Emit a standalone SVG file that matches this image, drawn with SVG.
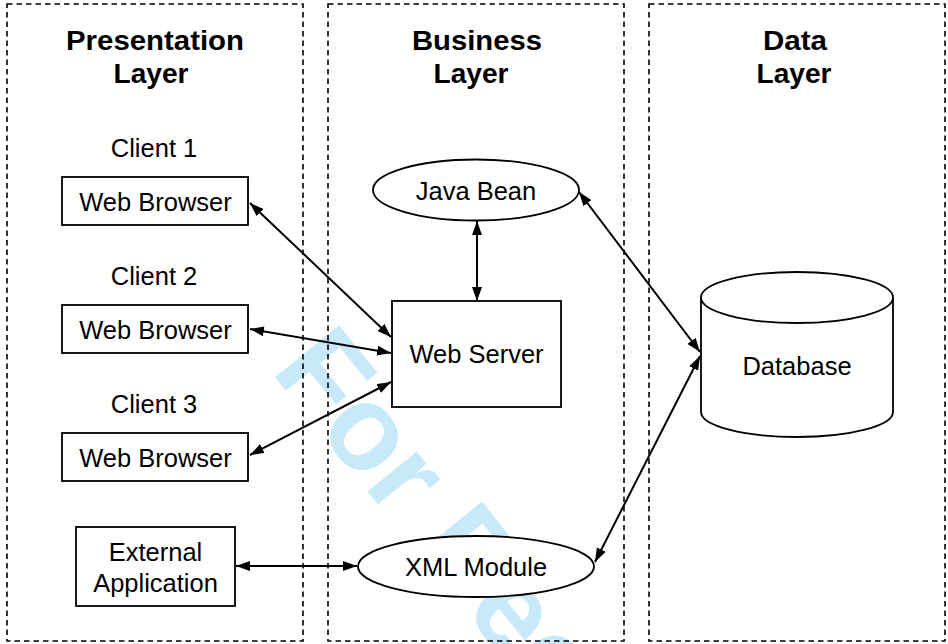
<svg xmlns="http://www.w3.org/2000/svg" width="948" height="644" viewBox="0 0 948 644">
<style>
.panel{fill:none;stroke:#000;stroke-width:1.6;stroke-dasharray:5.5,4}
.box{fill:#fff;stroke:#000;stroke-width:1.8}
.t{font-family:"Liberation Sans",Arial,Helvetica,sans-serif;font-size:25.5px;fill:#000;text-anchor:middle}
.h{font-family:"Liberation Sans",Arial,Helvetica,sans-serif;font-size:27px;font-weight:bold;fill:#000;text-anchor:middle}
.c{fill:none;stroke:#000;stroke-width:2;marker-start:url(#ah);marker-end:url(#ah)}
.wm{font-family:"Liberation Sans",Arial,Helvetica,sans-serif;font-size:120px;font-weight:bold;fill:#c8e9fa}
</style>
<defs>
<marker id="ah" viewBox="0 0 14 10" refX="14" refY="5" markerWidth="14" markerHeight="10.5" markerUnits="userSpaceOnUse" orient="auto-start-reverse">
<path d="M0,0 L14,5 L0,10 z" fill="#000"/>
</marker>
</defs>
<rect width="948" height="644" fill="#fff"/>
<text class="wm" transform="translate(270,371) rotate(51)">For Peer Review</text>
<g id="panels">
<rect class="panel" x="7" y="4" width="296" height="637"/>
<rect class="panel" x="328" y="4" width="296" height="637"/>
<rect class="panel" x="649" y="4" width="296" height="637"/>
</g>
<g id="titles">
<text class="h" x="155" y="50" textLength="178" lengthAdjust="spacingAndGlyphs">Presentation</text>
<text class="h" x="151" y="83" textLength="75" lengthAdjust="spacingAndGlyphs">Layer</text>
<text class="h" x="477" y="50" textLength="130" lengthAdjust="spacingAndGlyphs">Business</text>
<text class="h" x="471" y="83" textLength="75" lengthAdjust="spacingAndGlyphs">Layer</text>
<text class="h" x="795" y="50" textLength="64" lengthAdjust="spacingAndGlyphs">Data</text>
<text class="h" x="794" y="83" textLength="75" lengthAdjust="spacingAndGlyphs">Layer</text>
</g>
<g id="client1-label"><text class="t" x="154" y="157">Client 1</text></g>
<g id="client2-label"><text class="t" x="154" y="285">Client 2</text></g>
<g id="client3-label"><text class="t" x="154" y="413">Client 3</text></g>
<g id="browser1"><rect class="box" x="62" y="177" width="186" height="48"/><text class="t" x="155.5" y="211">Web Browser</text></g>
<g id="browser2"><rect class="box" x="62" y="305" width="186" height="48"/><text class="t" x="155.5" y="339">Web Browser</text></g>
<g id="browser3"><rect class="box" x="62" y="433" width="186" height="48"/><text class="t" x="155.5" y="467">Web Browser</text></g>
<g id="external"><rect class="box" x="76" y="527" width="159" height="79"/><text class="t" x="155.5" y="561">External</text><text class="t" x="155.5" y="592">Application</text></g>
<g id="javabean"><ellipse class="box" cx="476" cy="190" rx="103" ry="30.5"/><text class="t" x="476" y="200">Java Bean</text></g>
<g id="webserver"><rect class="box" x="392" y="301" width="169" height="106"/><text class="t" x="476.5" y="363">Web Server</text></g>
<g id="xmlmodule"><ellipse class="box" cx="476" cy="566.5" rx="118" ry="30.5"/><text class="t" x="476" y="576">XML Module</text></g>
<g id="database">
<path class="box" d="M701,297.5 L701,412 A96,25 0 0 0 893,412 L893,297.5"/>
<ellipse class="box" cx="797" cy="297.5" rx="96" ry="25.5"/>
<text class="t" x="797" y="375">Database</text>
</g>
<g id="connectors">
<line class="c" x1="250" y1="203" x2="391" y2="337"/>
<line class="c" x1="250" y1="329" x2="391" y2="353"/>
<line class="c" x1="250" y1="455" x2="391" y2="382"/>
<line class="c" x1="477" y1="221" x2="477" y2="301"/>
<line class="c" x1="579" y1="192" x2="700" y2="352"/>
<line class="c" x1="700" y1="356" x2="595" y2="562"/>
<line class="c" x1="236" y1="566" x2="357" y2="566"/>
</g>
</svg>
